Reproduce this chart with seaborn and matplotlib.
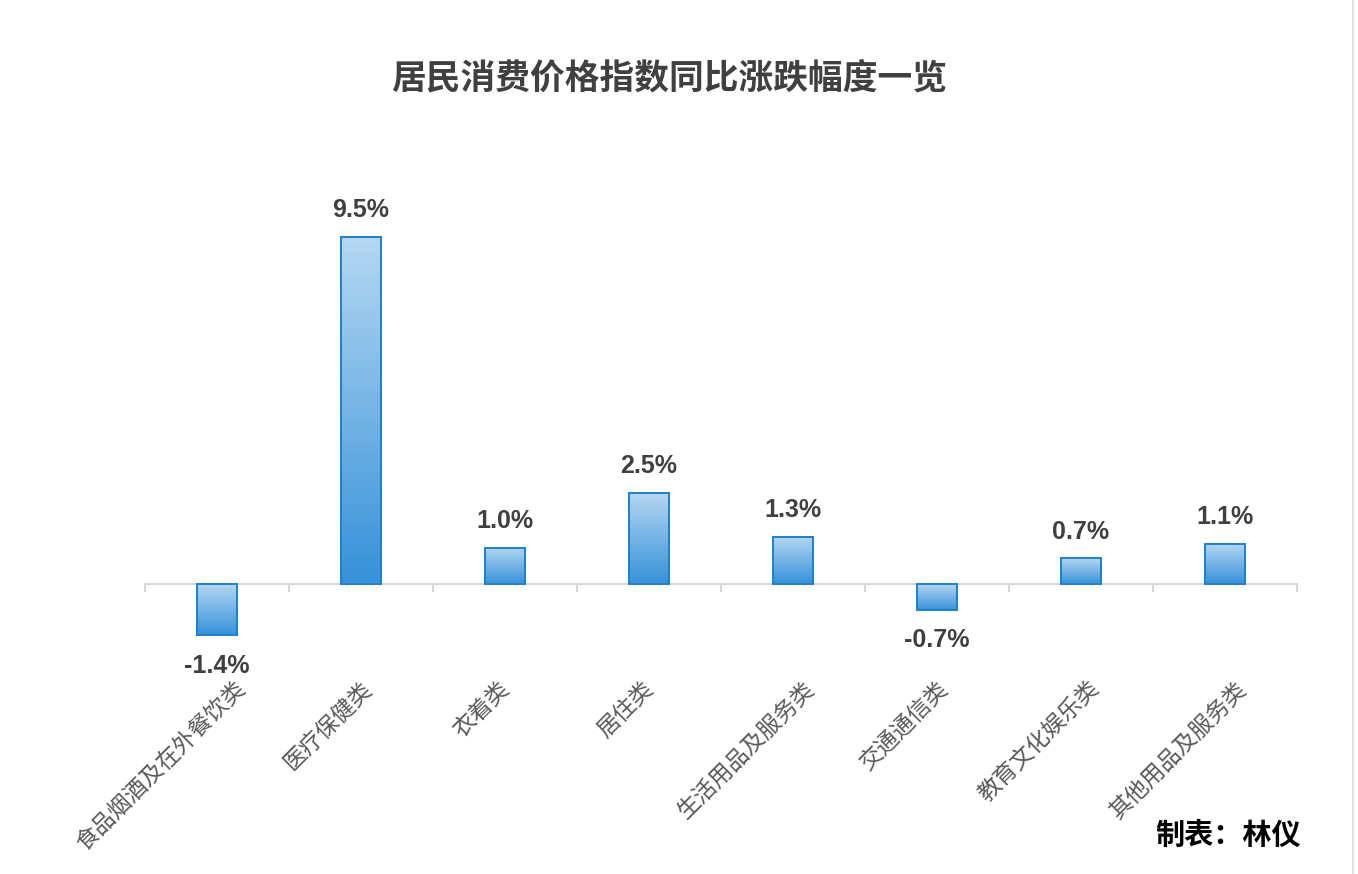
import numpy as np
import pandas as pd
import matplotlib
matplotlib.use("Agg")
import matplotlib.pyplot as plt
import seaborn as sns
from matplotlib.colors import LinearSegmentedColormap
from matplotlib.transforms import ScaledTranslation
from matplotlib.lines import Line2D

# ---------------------------
# data
# ---------------------------
categories = ['食品烟酒及在外餐饮类', '医疗保健类', '衣着类', '居住类',
              '生活用品及服务类', '交通通信类', '教育文化娱乐类', '其他用品及服务类']
changes = [-1.4, 9.5, 1.0, 2.5, 1.3, -0.7, 0.7, 1.1]
value_labels = ['-1.4%', '9.5%', '1.0%', '2.5%', '1.3%', '-0.7%', '0.7%', '1.1%']
title = '居民消费价格指数同比涨跌幅度一览'
credit = '制表：林仪'

sns.set_theme(style="white")
plt.rcParams['font.family'] = ['Noto Sans CJK SC', 'DejaVu Sans']

W, H = 1358, 874
fig = plt.figure(figsize=(W / 100, H / 100), dpi=100)
ax = fig.add_axes([145 / W, (H - 657) / H, 1152 / W, 456.25 / H])

df = pd.DataFrame({'cat': categories, 'val': changes})
sns.barplot(data=df, x='cat', y='val', width=0.28, color='#5aa6e0',
            saturation=1, ax=ax)

# gradient fill (light top -> darker bottom) clipped to each bar
cmap = LinearSegmentedColormap.from_list('bar', ['#b5d7f2', '#3692d9'])
grad = np.linspace(0, 1, 256).reshape(-1, 1)
for p in ax.patches:
    x0, w = p.get_x(), p.get_width()
    y0, h = p.get_y(), p.get_height()
    lo, hi = min(y0, y0 + h), max(y0, y0 + h)
    im = ax.imshow(grad, extent=[x0, x0 + w, lo, hi], origin='upper',
                   aspect='auto', cmap=cmap, zorder=2)
    im.set_clip_path(p)
    p.set_facecolor('none')
    p.set_edgecolor('#1b80cf')
    p.set_linewidth(1.4)
    p.set_zorder(3)

ax.set_xlim(-0.5, 7.5)
ax.set_ylim(-2, 10.5)

# value labels
for i, (v, s) in enumerate(zip(changes, value_labels)):
    dy = 19.4 if v > 0 else -22
    ax.annotate(s, (i, v), xytext=(0, dy), textcoords='offset points',
                ha='center', va='center', fontsize=18, fontweight='bold',
                color='#404040', family=['Liberation Sans', 'DejaVu Sans'])

# rotated category labels
for i, c in enumerate(categories):
    dx = 8 + 3.4 * (len(c) - 5)
    tr = ax.transData + ScaledTranslation(dx / 100, -101 / 100, fig.dpi_scale_trans)
    ax.text(i, 0, c, transform=tr, rotation=45, rotation_mode='anchor',
            ha='right', va='center', fontsize=16.5, color='#595959')

# axis styling
for side in ['top', 'right', 'left']:
    ax.spines[side].set_visible(False)
ax.spines['bottom'].set_position(('data', 0))
ax.spines['bottom'].set_color('#d6d6d6')
ax.spines['bottom'].set_linewidth(1.5)
ax.set_xticks(range(len(categories)))
ax.set_xticklabels([])
ax.set_xticks(np.arange(-0.5, len(categories), 1), minor=True)
ax.tick_params(axis='x', which='major', length=0)
ax.tick_params(axis='x', which='minor', bottom=True, length=5.8, width=1.5,
               color='#d6d6d6', direction='out')
ax.set_yticks([])
ax.set_xlabel('')
ax.set_ylabel('')
ax.set_facecolor('none')

fig.text(669 / W, 1 - 78 / H, title, ha='center', va='center',
         fontsize=25, fontweight='bold', color='#404040')
fig.text(1155 / W, 1 - 835 / H, credit, ha='left', va='center',
         fontsize=21, fontweight='bold', color='black')
fig.add_artist(Line2D([1353 / W, 1353 / W], [0, 1], transform=fig.transFigure,
                      color='#e2e2e2', lw=1.5))

fig.savefig('out.png', dpi=100, facecolor='white')
